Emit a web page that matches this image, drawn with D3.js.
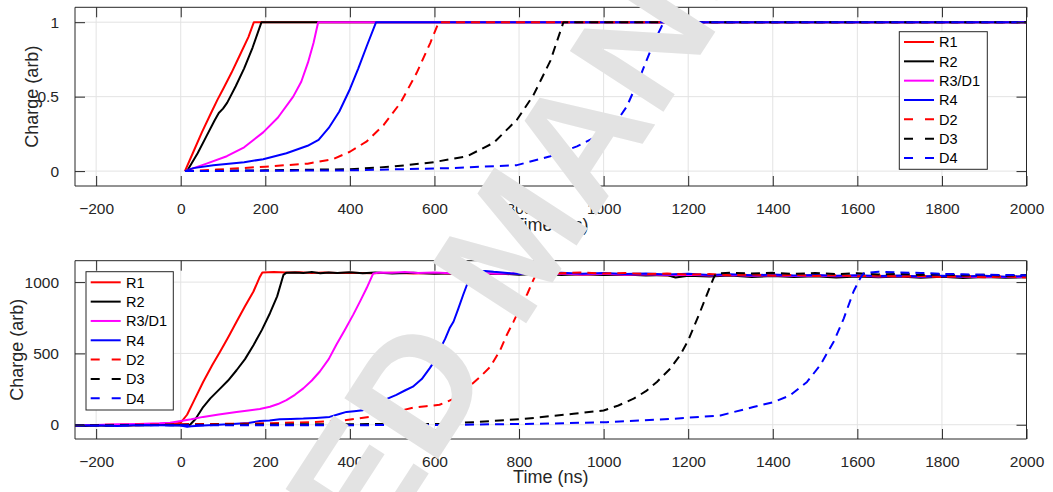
<!DOCTYPE html>
<html>
<head>
<meta charset="utf-8">
<script src="https://cdn.jsdelivr.net/npm/d3@7"></script>
<style>
html,body{margin:0;padding:0;background:#fff;}
svg{display:block;font-family:"Liberation Sans",Arial,Helvetica,sans-serif;}
</style>
</head>
<body>
<svg id="chart" width="1053" height="492"></svg>
<script>
// ---------- data ----------
const seriesNames = ["R1","R2","R3/D1","R4","D2","D3","D4"];
const seriesColors = ["#ff0000","#000000","#ff00ff","#0000ff","#ff0000","#000000","#0000ff"];
const seriesDashed = [false,false,false,false,true,true,true];

const xTicks = [-200,0,200,400,600,800,1000,1200,1400,1600,1800,2000];
const topYTicks = [0,0.5,1];
const topYTickLabels = ["0","0.5","1"];
const botYTicks = [0,500,1000];
const botYTickLabels = ["0","500","1000"];

// top panel (normalised charge)
const topR1 = [[10,0],[30,0.13],[50,0.26],[70,0.38],[87,0.48],[100,0.55],[120,0.66],[140,0.78],[160,0.9],[173,1],[2000,1]];
const topR2 = [[15,0],[40,0.12],[60,0.23],[80,0.34],[90,0.39],[100,0.42],[110,0.46],[130,0.57],[150,0.69],[170,0.83],[191,1],[2000,1]];
const topR3 = [[10,0],[61,0.05],[109,0.1],[150,0.16],[195,0.26],[230,0.36],[266,0.5],[285,0.6],[301,0.73],[314,0.86],[325,1],[2000,1]];
const topR4 = [[10,0],[30,0.02],[77,0.04],[150,0.06],[195,0.08],[250,0.12],[300,0.17],[326,0.21],[350,0.29],[375,0.4],[400,0.55],[420,0.69],[440,0.84],[462,1],[2000,1]];
const topD2 = [[10,0],[85,0.01],[200,0.03],[300,0.05],[360,0.08],[400,0.13],[440,0.2],[480,0.31],[520,0.46],[558,0.66],[590,0.86],[610,1],[2000,1]];
const topD3 = [[10,0],[200,0.005],[400,0.013],[500,0.03],[598,0.06],[677,0.1],[740,0.19],[795,0.345],[834,0.51],[874,0.74],[905,1],[2000,1]];
const topD4 = [[10,0],[400,0.005],[637,0.02],[795,0.04],[874,0.1],[937,0.166],[1000,0.256],[1031,0.334],[1055,0.435],[1087,0.64],[1118,0.86],[1142,1],[2000,1]];

// bottom panel (raw charge)
const botR1 = [[-250,-8],[-225,-4],[-200,-6],[-175,-2],[-150,-5],[-125,-1],[-100,-3],[-75,1],[-50,2],[-25,4],[0,14],[15,70],[30,160],[53,300],[75,420],[93,511],[112,612],[132,722],[152,830],[172,934],[186,1030],[193,1068],[220,1070],[250,1067],[280,1069],[310,1064],[340,1068],[370,1063],[400,1066],[450,1062],[500,1065],[550,1060],[600,1063],[650,1058],[700,1061],[750,1056],[800,1059],[850,1054],[900,1057],[950,1052],[1000,1055],[1050,1050],[1100,1053],[1150,1047],[1200,1050],[1250,1046],[1300,1049],[1350,1044],[1400,1047],[1450,1043],[1500,1046],[1550,1041],[1600,1045],[1650,1040],[1700,1043],[1750,1039],[1800,1042],[1850,1037],[1900,1041],[1950,1036],[2000,1039]];
const botR2 = [[-250,-5],[-225,-9],[-200,-4],[-175,-7],[-150,-2],[-125,-6],[-100,-1],[-75,-4],[-50,0],[-25,-3],[0,-2],[10,-8],[22,0],[35,40],[53,124],[70,185],[93,253],[112,310],[132,382],[152,460],[172,558],[192,665],[211,782],[228,900],[243,1051],[250,1066],[270,1068],[290,1063],[310,1070],[330,1062],[350,1068],[370,1064],[400,1069],[430,1062],[460,1067],[500,1061],[550,1066],[600,1058],[650,1062],[700,1057],[750,1060],[800,1052],[850,1058],[900,1050],[950,1056],[1000,1049],[1050,1054],[1100,1046],[1150,1050],[1170,1032],[1200,1044],[1250,1040],[1300,1046],[1350,1036],[1400,1043],[1450,1035],[1500,1041],[1550,1032],[1600,1040],[1650,1034],[1700,1039],[1750,1030],[1800,1037],[1850,1028],[1900,1036],[1950,1030],[2000,1034]];
const botR3 = [[-250,-4],[-200,-2],[-150,3],[-100,6],[-50,10],[-25,14],[0,26],[25,38],[53,55],[90,72],[132,90],[160,100],[187,110],[211,126],[230,145],[250,173],[270,210],[290,255],[310,310],[329,373],[350,460],[368,561],[388,665],[408,772],[425,870],[440,960],[455,1060],[470,1068],[500,1066],[530,1070],[560,1064],[600,1068],[650,1060],[700,1064],[750,1058],[800,1062],[850,1056],[900,1060],[950,1054],[1000,1058],[1050,1052],[1100,1055],[1150,1049],[1200,1052],[1250,1046],[1300,1050],[1350,1045],[1400,1048],[1450,1043],[1500,1046],[1550,1041],[1600,1045],[1650,1040],[1700,1043],[1750,1038],[1800,1042],[1850,1037],[1900,1040],[1950,1035],[2000,1038]];
const botR4 = [[-250,-6],[-200,-3],[-150,-8],[-100,-2],[-50,-4],[0,-6],[15,-15],[25,-10],[53,-5],[90,0],[132,7],[160,12],[187,26],[210,30],[234,38],[260,40],[290,43],[320,48],[352,55],[375,75],[392,90],[410,95],[431,102],[450,125],[463,150],[485,178],[510,209],[530,240],[549,267],[570,320],[589,397],[603,460],[613,530],[625,600],[636,678],[645,722],[656,810],[668,911],[678,990],[688,1056],[700,1075],[720,1078],[740,1072],[760,1068],[780,1062],[800,1058],[830,1064],[860,1060],[900,1066],[950,1059],[1000,1063],[1050,1056],[1100,1060],[1150,1053],[1200,1058],[1250,1050],[1300,1055],[1350,1048],[1400,1053],[1450,1046],[1500,1050],[1550,1044],[1600,1048],[1650,1042],[1700,1047],[1750,1040],[1800,1045],[1850,1039],[1900,1044],[1950,1038],[2000,1042]];
const botD2 = [[-250,-3],[-150,0],[-50,2],[0,4],[100,6],[200,10],[305,18],[383,30],[446,55],[490,80],[525,102],[550,120],[580,130],[612,140],[629,160],[651,190],[676,253],[708,335],[732,406],[755,520],[771,629],[787,723],[802,817],[820,920],[834,1016],[842,1060],[870,1066],[900,1062],[950,1068],[1000,1060],[1050,1064],[1100,1056],[1150,1060],[1200,1052],[1250,1056],[1300,1048],[1350,1053],[1400,1046],[1450,1050],[1500,1043],[1550,1048],[1600,1041],[1650,1046],[1700,1039],[1750,1044],[1800,1036],[1850,1041],[1900,1034],[1950,1039],[2000,1033]];
const botD3 = [[-250,-4],[-100,-2],[0,0],[200,2],[400,4],[613,6],[692,18],[810,40],[929,77],[1000,100],[1035,135],[1071,183],[1100,235],[1126,300],[1155,385],[1181,488],[1200,590],[1212,676],[1228,790],[1244,911],[1260,1028],[1266,1060],[1300,1066],[1350,1060],[1400,1065],[1450,1058],[1500,1063],[1550,1056],[1600,1062],[1650,1054],[1700,1058],[1750,1050],[1800,1055],[1850,1047],[1900,1052],[1950,1044],[2000,1049]];
const botD4 = [[-250,-6],[-100,-4],[0,-3],[200,-4],[400,-3],[605,-2],[850,7],[1007,18],[1165,42],[1276,65],[1354,124],[1402,159],[1441,206],[1481,300],[1512,417],[1544,582],[1568,746],[1591,934],[1607,1028],[1615,1062],[1650,1072],[1700,1068],[1750,1064],[1800,1058],[1850,1055],[1900,1052],[1950,1050],[2000,1048]];

const topSeries = [topR1,topR2,topR3,topR4,topD2,topD3,topD4];
const botSeries = [botR1,botR2,botR3,botR4,botD2,botD3,botD4];

const watermarkText = "ACCEPTED MANUSCRIPT";

// ---------- drawing ----------
const svg = d3.select("#chart");
const axisColor = "#262626";
const gridColor = "#e3e3e3";

function drawPanel(cfg){
  const x = d3.scaleLinear().domain([-250,2000]).range([cfg.left,cfg.right]);
  const y = d3.scaleLinear().domain(cfg.yDomain).range([cfg.bottom,cfg.top]);
  const g = svg.append("g");
  const clipId = "clip"+cfg.id;
  svg.append("clipPath").attr("id",clipId).append("rect")
    .attr("x",cfg.left).attr("y",cfg.top).attr("width",cfg.right-cfg.left).attr("height",cfg.bottom-cfg.top);

  g.selectAll(".gx").data(xTicks).enter().append("line")
    .attr("x1",d=>x(d)).attr("x2",d=>x(d)).attr("y1",cfg.top).attr("y2",cfg.bottom)
    .attr("stroke",gridColor).attr("stroke-width",1);
  g.selectAll(".gy").data(cfg.yTicks).enter().append("line")
    .attr("y1",d=>y(d)).attr("y2",d=>y(d)).attr("x1",cfg.left).attr("x2",cfg.right)
    .attr("stroke",gridColor).attr("stroke-width",1);

  const line = d3.line().x(d=>x(d[0])).y(d=>y(d[1]));
  const lg = g.append("g").attr("clip-path","url(#"+clipId+")");
  cfg.series.forEach((s,i)=>{
    lg.append("path").datum(s).attr("d",line)
      .attr("fill","none").attr("stroke",seriesColors[i]).attr("stroke-width",2)
      .attr("stroke-linejoin","round")
      .attr("stroke-dasharray",seriesDashed[i]?"9,6":null);
  });

  const tl = 10;
  const axB = d3.axisBottom(x).tickValues(xTicks).tickSize(-tl).tickPadding(tl+7).tickFormat(d3.format("d"));
  const axT = d3.axisTop(x).tickValues(xTicks).tickSize(-tl).tickFormat("");
  const axL = d3.axisLeft(y).tickValues(cfg.yTicks).tickSize(-tl).tickPadding(tl+6).tickFormat((d,i)=>cfg.yTickLabels[i]);
  const axR = d3.axisRight(y).tickValues(cfg.yTicks).tickSize(-tl).tickFormat("");
  const styleAx = sel => {
    sel.selectAll("path").attr("stroke",axisColor).attr("stroke-width",1);
    sel.selectAll("line").attr("stroke",axisColor).attr("stroke-width",1);
    sel.selectAll("text").attr("fill",axisColor).attr("font-size","15.5px").attr("font-family","'Liberation Sans',Arial,sans-serif");
  };
  g.append("g").attr("transform",`translate(0,${cfg.bottom})`).call(axB).call(styleAx).call(s=>s.select(".domain").attr("d",`M${cfg.left},0H${cfg.right}`));
  g.append("g").attr("transform",`translate(0,${cfg.top})`).call(axT).call(styleAx).call(s=>s.select(".domain").attr("d",`M${cfg.left},0H${cfg.right}`));
  g.append("g").attr("transform",`translate(${cfg.left},0)`).call(axL).call(styleAx).call(s=>s.select(".domain").attr("d",`M0,${cfg.top}V${cfg.bottom}`));
  g.append("g").attr("transform",`translate(${cfg.right},0)`).call(axR).call(styleAx).call(s=>s.select(".domain").attr("d",`M0,${cfg.top}V${cfg.bottom}`));

  g.append("text").attr("x",(cfg.left+cfg.right)/2).attr("y",cfg.xLabelY)
    .attr("text-anchor","middle").attr("font-size","18px").attr("fill",axisColor).text("Time (ns)");
  g.append("text").attr("transform",`translate(${cfg.yLabelX},${(cfg.top+cfg.bottom)/2}) rotate(-90)`)
    .attr("text-anchor","middle").attr("font-size","18px").attr("fill",axisColor).text("Charge (arb)");

  const L = cfg.legend;
  const leg = g.append("g");
  leg.append("rect").attr("x",L.x).attr("y",L.y).attr("width",L.w).attr("height",L.h)
    .attr("fill","#fff").attr("stroke",axisColor).attr("stroke-width",1);
  seriesNames.forEach((n,i)=>{
    const yy = L.firstY + i*L.step;
    leg.append("line").attr("x1",L.lx1).attr("x2",L.lx2).attr("y1",yy).attr("y2",yy)
      .attr("stroke",seriesColors[i]).attr("stroke-width",2)
      .attr("stroke-dasharray",seriesDashed[i]?"9,12":null);
    leg.append("text").attr("x",L.tx).attr("y",yy).attr("dy","0.36em")
      .attr("font-size","14.5px").attr("fill","#000").text(n);
  });
}

drawPanel({id:"top",left:75,right:1026.5,top:7.3,bottom:186,yDomain:[-0.1,1.1],
  yTicks:topYTicks,yTickLabels:topYTickLabels,series:topSeries,xLabelY:231,yLabelX:38,
  legend:{x:899.3,y:31.7,w:88,h:137.6,firstY:42,step:19.33,lx1:904,lx2:934,tx:939}});
drawPanel({id:"bot",left:75,right:1026.5,top:260.7,bottom:439,yDomain:[-100,1150],
  yTicks:botYTicks,yTickLabels:botYTickLabels,series:botSeries,xLabelY:483,yLabelX:23,
  legend:{x:86,y:271.7,w:87.3,h:138.3,firstY:282.3,step:19.33,lx1:90.7,lx2:120.7,tx:126}});

// watermark drawn on top
const wm = svg.append("g").attr("transform","translate(432,468) rotate(-57)");
const wt = wm.append("text").attr("x",0).attr("y",0)
  .attr("font-size","162px").attr("font-weight","bold").attr("fill","#e3e3e3")
  .attr("font-family","'Liberation Sans',Arial,sans-serif").text(watermarkText);
const off = wt.node().getSubStringLength(0,7);
wt.attr("x",-off);
</script>
</body>
</html>
